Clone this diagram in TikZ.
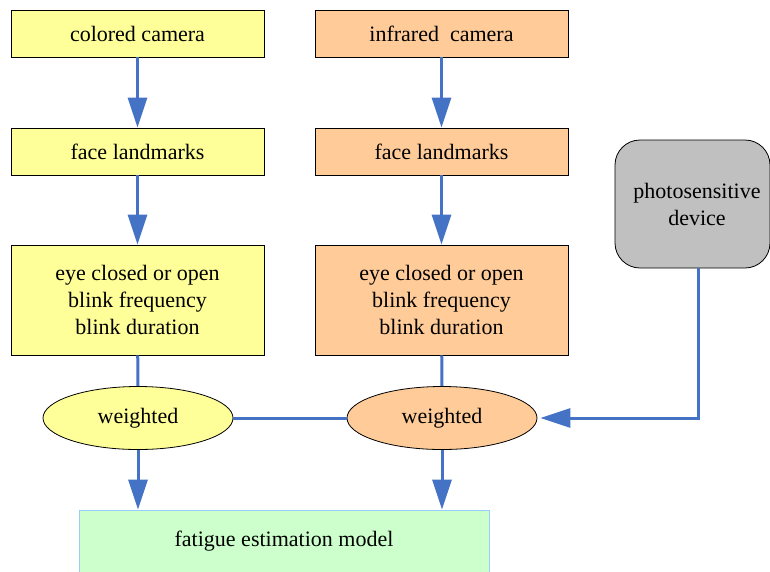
\documentclass[tikz,border=0pt]{standalone}
\usepackage{fontspec}
\setmainfont{Liberation Serif}
\usetikzlibrary{arrows.meta,shapes.geometric}
\definecolor{ylw}{HTML}{FFFF99}
\definecolor{org}{HTML}{FFCC99}
\definecolor{gry}{HTML}{C0C0C0}
\definecolor{grn}{HTML}{CCFFCC}
\definecolor{lblue}{HTML}{99CCFF}
\definecolor{arr}{HTML}{4472C4}
\begin{document}
\begin{tikzpicture}[x=1pt,y=-1pt,
  every node/.style={font=\fontsize{22}{27}\selectfont, align=center, inner sep=0pt},
  box/.style={draw=black, line width=0.8pt, minimum width=253pt},
  ell/.style={ellipse, draw=black, line width=0.8pt, minimum width=190pt, minimum height=63pt},
  conn/.style={draw=arr, line width=3pt},
  arrow/.style={conn, -{Triangle[length=30pt,width=19pt]}}]
\clip (0,0) rectangle (770,571);
\fill[white] (0,0) rectangle (770,571);
% left column
\node[box, fill=ylw, minimum height=47pt] (c1) at (137.5,33.5) {colored camera};
\node[box, fill=ylw, minimum height=47pt] (f1) at (137.5,151.5) {face landmarks};
\node[box, fill=ylw, minimum height=110pt] (e1) at (137.5,300) {eye closed or open\\blink frequency\\blink duration};
\node[ell, fill=ylw] (w1) at (138,418) {weighted};
% right column
\node[box, fill=org, minimum height=47pt] (c2) at (441.5,33.5) {infrared\ \ camera};
\node[box, fill=org, minimum height=47pt] (f2) at (441.5,151.5) {face landmarks};
\node[box, fill=org, minimum height=110pt] (e2) at (441.5,300) {eye closed or open\\blink frequency\\blink duration};
\node[ell, fill=org] (w2) at (442,418) {weighted};
% photosensitive device
\node[draw=black, line width=0.8pt, fill=gry, rounded corners=25pt, minimum width=155pt, minimum height=128pt] (ph) at (692.5,204) {};
\node at (697,204) (phl) {photosensitive\\device};
% bottom
\node[draw=lblue, line width=0.8pt, fill=grn, minimum width=410pt, minimum height=63pt] (fm) at (284,541.5) {fatigue estimation model};
% connectors
\draw[arrow] (c1) -- (f1);
\draw[arrow] (f1) -- (e1);
\draw[conn] (e1) -- (w1);
\draw[arrow] (w1) -- (w1 |- fm.north);
\draw[arrow] (c2) -- (f2);
\draw[arrow] (f2) -- (e2);
\draw[conn] (e2) -- (w2);
\draw[arrow] (w2) -- (w2 |- fm.north);
\draw[conn] (w1) -- (w2);
\coordinate (bend) at (698,418);
\draw[arrow, shorten >=3pt] (ph.south -| bend) -- (bend) -- (w2.east);
\end{tikzpicture}
\end{document}
